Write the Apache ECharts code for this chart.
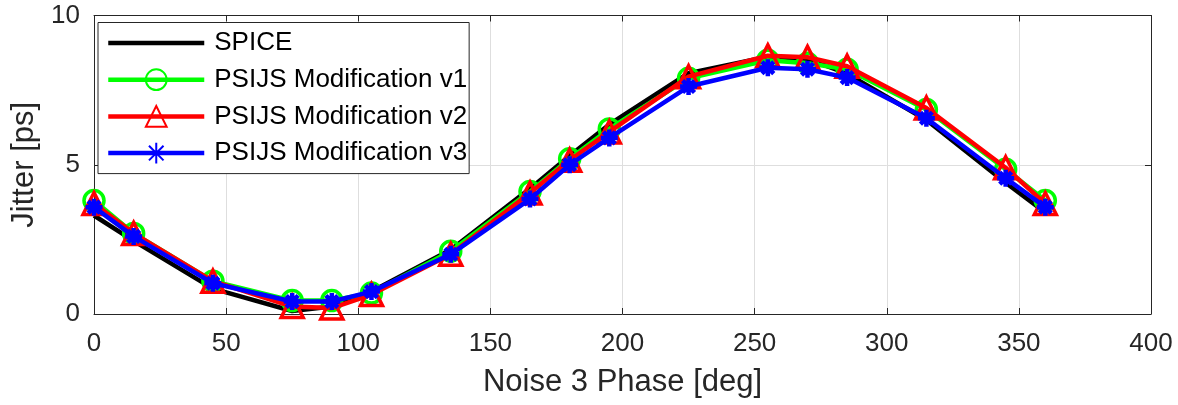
<!DOCTYPE html>
<html>
<head>
<meta charset="utf-8">
<script src="https://cdn.jsdelivr.net/npm/echarts@6/dist/echarts.min.js"></script>
<style>html,body{margin:0;padding:0;background:#fff;}#c{width:1178px;height:405px;}</style>
</head>
<body>
<div id="c"></div>
<script>
const phase = [0, 15, 45, 75, 90, 105, 135, 165, 180, 195, 225, 255, 270, 285, 315, 345, 360];
const spice = [3.3, 2.45, 0.85, 0.1, 0.25, 0.75, 2.15, 4.2, 5.3, 6.35, 8.07, 8.62, 8.55, 8.05, 6.5, 4.4, 3.4];
const v1 = [3.8, 2.7, 1.1, 0.45, 0.45, 0.7, 2.1, 4.1, 5.2, 6.2, 7.9, 8.5, 8.4, 8.2, 6.85, 4.85, 3.8];
const v2 = [3.7, 2.7, 1.1, 0.25, 0.2, 0.65, 2.0, 4.05, 5.15, 6.1, 7.95, 8.65, 8.6, 8.3, 6.9, 4.9, 3.7];
const v3 = [3.58, 2.6, 1.03, 0.42, 0.42, 0.75, 2.0, 3.85, 5.0, 5.9, 7.62, 8.25, 8.2, 7.92, 6.56, 4.55, 3.58];
const seriesNames = ['SPICE', 'PSIJS Modification v1', 'PSIJS Modification v2', 'PSIJS Modification v3'];
const xTitle = 'Noise 3 Phase [deg]';
const yTitle = 'Jitter [ps]';

const FONT = "'Liberation Sans', Arial, Helvetica, sans-serif";
const AX = '#262626';
const GRID = '#dedede';
const pairs = arr => phase.map((p, i) => [p, arr[i]]);
const asterisk = 'path://M0,-10L0,10M-10,0L10,0M-7,-7L7,7M-7,7L7,-7';
const lineIcon = 'path://M0,0H100V4.5H0Z';

const chart = echarts.init(document.getElementById('c'), null, {renderer: 'canvas'});
chart.setOption({
  animation: false,
  backgroundColor: '#fff',
  grid: {left: 94, right: 27, top: 15.5, bottom: 91, containLabel: false},
  xAxis: [{
    type: 'value', min: 0, max: 400, interval: 50,
    name: xTitle, nameLocation: 'middle', nameGap: 53,
    nameTextStyle: {fontFamily: FONT, fontSize: 31, color: AX},
    axisLine: {show: true, onZero: false, lineStyle: {color: AX, width: 1}},
    axisTick: {show: true, inside: true, length: 6, lineStyle: {color: AX}},
    axisLabel: {fontFamily: FONT, fontSize: 26, color: AX, margin: 17},
    splitLine: {show: true, lineStyle: {color: GRID, width: 1}}
  }, {
    type: 'value', min: 0, max: 400, interval: 50, position: 'top',
    axisLine: {show: true, onZero: false, lineStyle: {color: AX, width: 1}},
    axisTick: {show: true, inside: true, length: 6, lineStyle: {color: AX}},
    axisLabel: {show: false}, splitLine: {show: false}
  }],
  yAxis: [{
    type: 'value', min: 0, max: 10, interval: 5,
    name: yTitle, nameLocation: 'middle', nameGap: 49,
    nameTextStyle: {fontFamily: FONT, fontSize: 31, color: AX},
    axisLine: {show: true, onZero: false, lineStyle: {color: AX, width: 1}},
    axisTick: {show: true, inside: true, length: 6, lineStyle: {color: AX}},
    axisLabel: {fontFamily: FONT, fontSize: 26, color: AX, margin: 14},
    splitLine: {show: true, lineStyle: {color: GRID, width: 1}}
  }, {
    type: 'value', min: 0, max: 10, interval: 5, position: 'right',
    axisLine: {show: true, onZero: false, lineStyle: {color: AX, width: 1}},
    axisTick: {show: true, inside: true, length: 6, lineStyle: {color: AX}},
    axisLabel: {show: false}, splitLine: {show: false}
  }],
  legend: {
    orient: 'vertical', left: 98, top: 22.5,
    data: [{name: seriesNames[0], icon: lineIcon}, seriesNames[1], seriesNames[2], seriesNames[3]],
    backgroundColor: '#fff', borderColor: AX, borderWidth: 1,
    padding: [7.5, 2, 7.5, 8],
    itemWidth: 96, itemHeight: 26, itemGap: 10.7,
    lineStyle: {width: 4.5},
    textStyle: {fontFamily: FONT, fontSize: 26, color: '#000', padding: [0, 0, 0, 5]}
  },
  series: [
    {
      name: seriesNames[0], type: 'line', data: pairs(spice),
      showSymbol: false, symbol: 'none',
      lineStyle: {color: '#000', width: 4.5}, itemStyle: {color: '#000'}, z: 2
    },
    {
      name: seriesNames[1], type: 'line', data: pairs(v1),
      symbol: 'circle', symbolSize: 20,
      lineStyle: {color: '#00ff00', width: 4.5},
      itemStyle: {color: 'rgba(255,255,255,0)', borderColor: '#00ff00', borderWidth: 3.5}, z: 3
    },
    {
      name: seriesNames[2], type: 'line', data: pairs(v2),
      symbol: 'triangle', symbolSize: 22,
      lineStyle: {color: '#ff0000', width: 4.5},
      itemStyle: {color: 'rgba(255,255,255,0)', borderColor: '#ff0000', borderWidth: 3.5}, z: 4
    },
    {
      name: seriesNames[3], type: 'line', data: pairs(v3),
      symbol: asterisk, symbolSize: 17,
      lineStyle: {color: '#0000ff', width: 4.5},
      itemStyle: {color: '#0000ff', borderColor: '#0000ff', borderWidth: 4.5}, z: 5
    }
  ]
});
</script>
</body>
</html>
